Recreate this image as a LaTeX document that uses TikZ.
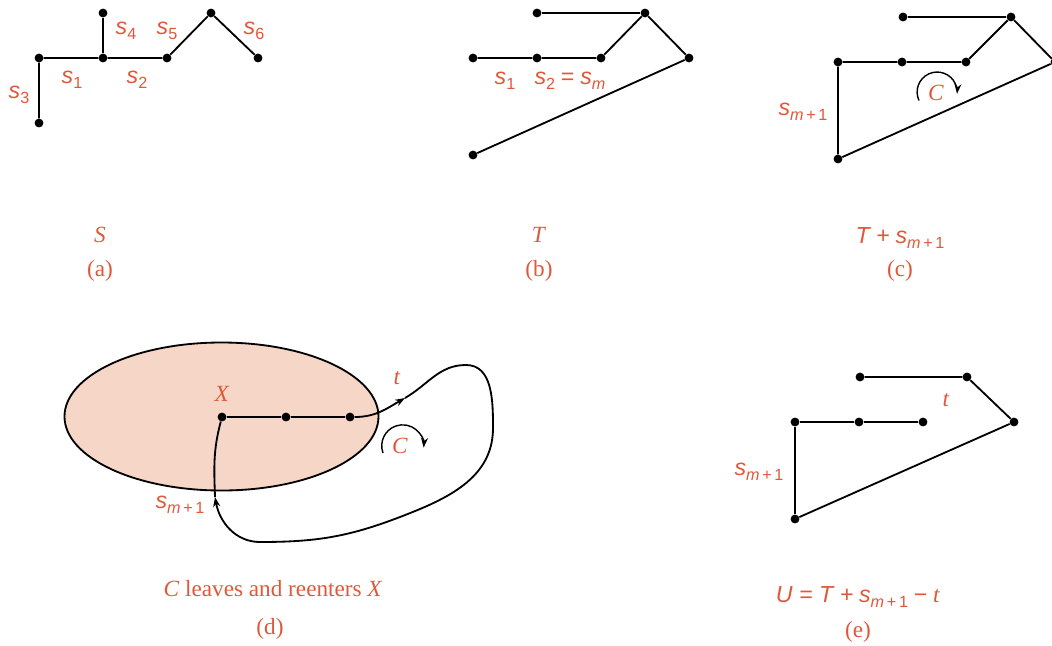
\documentclass[tikz,border=0pt]{standalone}
\usepackage{fontspec}
\setmainfont{Liberation Serif}
\setsansfont{Liberation Sans}
\usepackage{tikz}
\usetikzlibrary{arrows.meta,positioning,shapes}
\usepackage{xcolor}

\definecolor{lblred}{RGB}{224,88,58}
\definecolor{setfill}{RGB}{246,214,199}
% s with a lowered sans subscript
\newcommand{\sv}[1]{{\sffamily\itshape s}\raisebox{-0.5ex}{\fontsize{11.5}{13}\selectfont\sffamily #1}}
\newcommand{\smone}{\sv{\textit{m}\,+\,1}}

\begin{document}
\begin{tikzpicture}[
  x=0.025cm, y=0.025cm,
  dot/.style={circle, fill=black, inner sep=0pt, minimum size=6.3pt},
  edge/.style={line width=1.3pt, black},
  loopline/.style={line width=1.3pt, black},
  tip/.style={-{Stealth[length=7pt,width=5pt]}},
  lbl/.style={text=lblred, inner sep=0pt, font=\fontsize{16.5}{19}\selectfont},
  captext/.style={text=lblred, inner sep=0pt, font=\fontsize{16.5}{19}\selectfont}
]
\useasboundingbox (0,0) rectangle (1052,-645);

% (a) S
\node[dot] (a3) at (39,-123) {};
\node[dot] (a1) at (39,-58) {};
\node[dot] (a2) at (103,-58) {};
\node[dot] (a4) at (103,-13) {};
\node[dot] (a5) at (167,-58) {};
\node[dot] (a6) at (211,-13) {};
\node[dot] (a7) at (258,-58) {};
\draw[edge] (a3) -- (a1) -- (a2) -- (a5) -- (a6) -- (a7);
\draw[edge] (a2) -- (a4);
\node[lbl] (la1) at (72,-80) {\sv{1}};
\node[lbl] (la2) at (137,-80) {\sv{2}};
\node[lbl] (la3) at (19,-95) {\sv{3}};
\node[lbl] (la4) at (126,-31) {\sv{4}};
\node[lbl] (la5) at (167,-31) {\sv{5}};
\node[lbl] (la6) at (254,-31) {\sv{6}};
\node[captext] (capS) at (100,-235) {\textit{S}};
\node[captext] (capa) at (100,-271) {(a)};

% (b) T
\node[dot] (b1) at (473,-58) {};
\node[dot] (b2) at (537,-58) {};
\node[dot] (b3) at (601,-58) {};
\node[dot] (b4) at (645,-13) {};
\node[dot] (b5) at (537,-13) {};
\node[dot] (b6) at (689,-58) {};
\node[dot] (b7) at (473,-155) {};
\draw[edge] (b1) -- (b2) -- (b3) -- (b4) -- (b6) -- (b7);
\draw[edge] (b5) -- (b4);
\node[lbl] (lb1) at (505,-81) {\sv{1}};
\node[lbl] (lb2) at (570,-81) {\sv{2} {\sffamily =} \sv{\textit{m}}};
\node[captext] (capT) at (539,-235) {\textit{T}};
\node[captext] (capb) at (539,-271) {(b)};

% (c) T + s_{m+1}
\node[dot] (c1) at (838,-62) {};
\node[dot] (c2) at (902,-62) {};
\node[dot] (c3) at (966,-62) {};
\node[dot] (c4) at (1011,-17) {};
\node[dot] (c5) at (903,-17) {};
\node[dot] (c6) at (1055,-62) {};
\node[dot] (c7) at (838,-159) {};
\draw[edge] (c7) -- (c1) -- (c2) -- (c3) -- (c4) -- (c6) -- (c7);
\draw[edge] (c5) -- (c4);
\node[lbl] (lc1) at (803,-112) {\smone};
\coordinate (arcc) at (919,-100.5);
\draw[line width=1pt, tip] (arcc) arc[start angle=205, end angle=-5, radius=20];
\node[lbl] (lcC) at (936,-93) {\textit{C}};
\node[captext] (capTs) at (900,-238) {{\sffamily\itshape T +} \smone};
\node[captext] (capc) at (900,-271) {(c)};

% (d) C leaves and reenters X
\draw[line width=1.3pt, fill=setfill] (221.5,-416.5) ellipse[x radius=157, y radius=74];
\node[dot] (d1) at (222,-417) {};
\node[dot] (d2) at (286,-417) {};
\node[dot] (d3) at (350,-417) {};
\draw[edge] (d1) -- (d2) -- (d3);
\coordinate (ta) at (405,-398);
\coordinate (ltop) at (466,-365);
\coordinate (lright) at (493,-428);
\coordinate (lmid) at (400,-517);
\coordinate (lbot) at (260,-542);
\coordinate (sa) at (215,-497);
\draw[loopline, tip] (d3) to[out=0, in=210] (ta);
\draw[loopline, tip] (ta) to[out=30, in=180] (ltop) to[out=0, in=90] (lright)
  to[out=270, in=21] (lmid) to[out=201, in=0] (lbot) to[out=180, in=280] (sa);
\draw[loopline] (sa) to[out=92, in=255] (d1);
\coordinate (arcd) at (383,-453);
\draw[line width=1pt, tip] (arcd) arc[start angle=200, end angle=-5, radius=21];
\node[lbl] (ldX) at (222,-394) {\textit{X}};
\node[lbl] (ldt) at (397,-378) {\textit{t}};
\node[lbl] (ldC) at (400,-446) {\textit{C}};
\node[lbl] (lds) at (180,-505) {\smone};
\node[captext] (capX) at (273,-589) {\textit{C} leaves and reenters \textit{X}};
\node[captext] (capd) at (270,-629) {(d)};

% (e) U = T + s_{m+1} - t
\node[dot] (e1) at (795,-422) {};
\node[dot] (e2) at (859,-422) {};
\node[dot] (e3) at (923,-422) {};
\node[dot] (e4) at (860,-377) {};
\node[dot] (e5) at (967,-377) {};
\node[dot] (e6) at (1014,-422) {};
\node[dot] (e7) at (795,-519) {};
\draw[edge] (e7) -- (e1) -- (e2) -- (e3);
\draw[edge] (e4) -- (e5) -- (e6) -- (e7);
\node[lbl] (let) at (946,-400) {\textit{t}};
\node[lbl] (les) at (759,-472) {\smone};
\node[captext] (capU) at (858,-597) {{\sffamily\itshape U = T +} \smone{} {\sffamily\symbol{"2212}} \textit{t}};
\node[captext] (cape) at (858,-632) {(e)};

\end{tikzpicture}
\end{document}
